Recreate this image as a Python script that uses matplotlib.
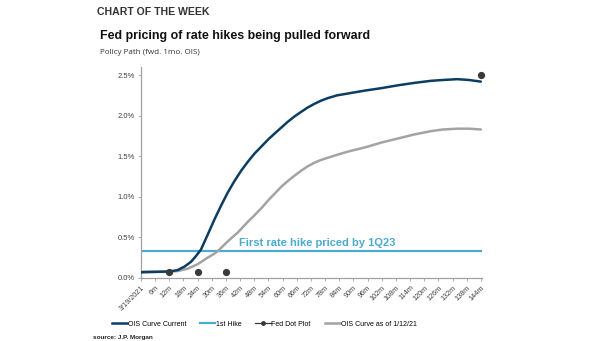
import matplotlib
matplotlib.use("Agg")
import matplotlib.pyplot as plt
from matplotlib.lines import Line2D

# ---- data ----
ois_current_months = [0, 6, 12, 15.5, 18.4, 21.2, 23.3, 25.4, 28.2, 31.1, 33.9, 36.7, 39.5, 42.4, 45.2,
                      48, 51, 54, 57, 59.3, 62, 65, 68, 70.6, 73.4, 76.3, 79, 83, 87, 95, 102, 109,
                      116, 123, 128, 134, 139, 144]
ois_current_vals = [0.07, 0.075, 0.08, 0.097, 0.14, 0.2, 0.27, 0.35, 0.53, 0.72, 0.89, 1.05, 1.19, 1.32, 1.43,
                    1.53, 1.62, 1.71, 1.79, 1.85, 1.92, 1.99, 2.05, 2.1, 2.145, 2.185, 2.215, 2.25, 2.27, 2.31,
                    2.34, 2.375, 2.405, 2.43, 2.44, 2.45, 2.44, 2.42]

ois_old_months = [0, 6, 12, 15.5, 19.8, 24, 28.2, 31.1, 32.5, 36.7, 41, 45.2, 48, 51, 54, 57, 59.3, 62,
                  65, 68, 70.6, 73.4, 76.3, 79, 83.3, 88, 95, 102, 109, 116, 123, 128, 134, 139, 144]
ois_old_vals = [0.08, 0.08, 0.08, 0.085, 0.115, 0.17, 0.25, 0.3, 0.33, 0.45, 0.56, 0.69, 0.77, 0.86, 0.96,
                1.05, 1.12, 1.19, 1.26, 1.325, 1.375, 1.42, 1.455, 1.48, 1.52, 1.56, 1.61, 1.67, 1.72, 1.77,
                1.81, 1.83, 1.84, 1.84, 1.83]

first_hike = 0.33
dot_months = [12, 24, 36, 144]
dot_vals = [0.07, 0.07, 0.07, 2.5]

tick_months = list(range(0, 145, 6))
tick_labels = ["3/19/2021"] + [f"{m}m" for m in tick_months[1:]]
y_ticks = [0.0, 0.5, 1.0, 1.5, 2.0, 2.5]
y_labels = ["0.0%", "0.5%", "1.0%", "1.5%", "2.0%", "2.5%"]

navy = "#0b3d63"
lightblue = "#4aabcf"
gray = "#a3a3a3"
dotc = "#3a3a3a"
axc = "#a0a0a0"

fig = plt.figure(figsize=(6.05, 3.41), dpi=100)
ax = fig.add_axes([141/605, 1-278/341, (482-141)/605, (278-67)/341])

ax.plot(ois_current_months, ois_current_vals, color=navy, lw=1.8, solid_capstyle="round",
        solid_joinstyle="round", zorder=4)
ax.plot(ois_old_months, ois_old_vals, color=gray, lw=1.8, solid_capstyle="round",
        solid_joinstyle="round", zorder=3)
ax.axhline(first_hike, color=lightblue, lw=1.6, zorder=2)
ax.plot(dot_months, dot_vals, ls="none", marker="o", ms=4.2, color=dotc, zorder=5, clip_on=False)
ax.text(41.5, first_hike + 0.04, "First rate hike priced by 1Q23", color=lightblue,
        fontsize=8, fontweight="bold", family="Liberation Sans", va="bottom", ha="left")

ax.set_xlim(0, 144.5)
ax.set_ylim(0, 2.6)
ax.set_xticks(tick_months)
ax.set_xticklabels(tick_labels, rotation=45, ha="right", rotation_mode="anchor",
                   fontsize=5.2, color="#404040", family="Liberation Sans")
ax.set_yticks(y_ticks)
ax.set_yticklabels(y_labels, fontsize=5.5, color="#404040", family="Liberation Sans")
ax.tick_params(axis="both", length=2.5, width=0.6, color=axc, pad=2)
for s in ["top", "right"]:
    ax.spines[s].set_visible(False)
for s in ["left", "bottom"]:
    ax.spines[s].set_color(axc)
    ax.spines[s].set_linewidth(0.9)

fig.text(97/605, 1-12/341, "CHART OF THE WEEK", fontsize=7.6, fontweight="bold",
         color="#333333", family="Liberation Sans", va="center", ha="left")
fig.text(100/605, 1-36/341, "Fed pricing of rate hikes being pulled forward", fontsize=8.9,
         fontweight="bold", color="#111111", family="Liberation Sans", va="center", ha="left")
fig.text(100/605, 1-52/341, "Policy Path (fwd. 1mo. OIS)", fontsize=5.8, color="#333333",
         family="Open Sans", va="center", ha="left")
fig.text(93/605, 1-337/341, "source: J.P. Morgan", fontsize=4.6, fontweight="bold",
         color="#222222", family="Liberation Sans", va="center", ha="left")

handles = [
    Line2D([], [], color=navy, lw=1.8),
    Line2D([], [], color=lightblue, lw=1.6),
    Line2D([], [], color=dotc, lw=0.9, marker="o", ms=2.5),
    Line2D([], [], color=gray, lw=1.8),
]
labels = ["OIS Curve Current", "1st Hike", "Fed Dot Plot", "OIS Curve as of 1/12/21"]
fig.legend(handles, labels, loc="center", bbox_to_anchor=(264/605, 1-324/341), ncol=4,
           frameon=False, prop={"family": "Liberation Sans", "size": 5},
           handlelength=2.2, handletextpad=0.1, columnspacing=2.0)

fig.savefig("out.png", dpi=100)
